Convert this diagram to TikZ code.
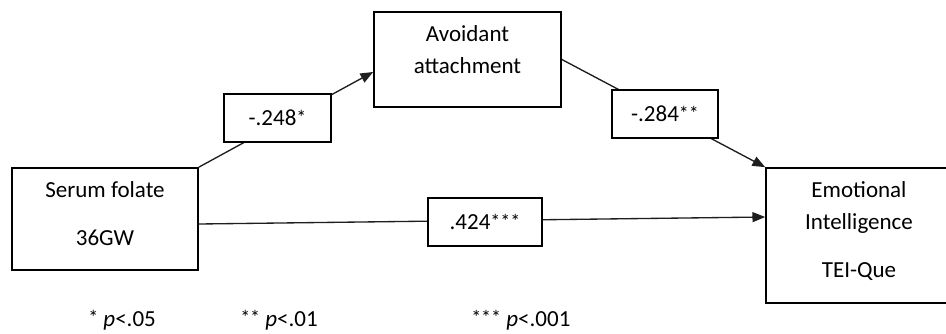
\documentclass[tikz,border=0pt]{standalone}
\usepackage{fontspec}
\setmainfont{Carlito}
\usetikzlibrary{arrows.meta,calc}
\newcommand\boxtxt[3]{\parbox[c][#1][t]{#2}{\centering\fontsize{17.25}{24}\selectfont\vspace*{5pt}#3}}
\newcommand\astk{{\fontsize{15}{15}\selectfont\raisebox{1pt}{*}}}
\begin{document}
\begin{tikzpicture}[x=0.75pt,y=-0.75pt,
  varbox/.style={draw, line width=1.3pt, inner sep=0pt},
  lbl/.style={draw, line width=1.2pt, fill=white, inner sep=0pt, minimum height=36pt, font=\fontsize{17.25}{20}\selectfont},
  conn/.style={line width=1pt, draw={rgb,255:red,30;green,30;blue,30}, -{Triangle[length=9.5pt,width=7.5pt]}},
  note/.style={anchor=base west, inner sep=0pt, font=\fontsize{17.25}{20}\selectfont}]
\clip (0,0) rectangle (946,333);
\fill[white] (0,0) rectangle (946,333);
% variable boxes
\node[varbox] (s) at (105,219) {\boxtxt{76.5pt}{139.5pt}{\strut Serum folate\par\vspace{12pt}\strut 36GW}};
\node[varbox] (a) at (467.5,59.5) {\boxtxt{71.25pt}{140.25pt}{\strut Avoidant\par\strut attachment}};
\node[varbox] (e) at (859,235.5) {\boxtxt{101.25pt}{139.5pt}{\strut Emotional\par\strut Intelligence\par\vspace{12pt}\strut TEI-Que}};
% connectors
\draw[conn] (s.north east) -- ($(a.west)+(0,12.5)$);
\draw[conn] (a.east) -- (e.north west);
\draw[conn] ($(s.east)+(0,5)$) -- ($(e.west)+(0,-18.5)$);
% coefficient labels
\node[lbl, minimum width=80.25pt] (l1) at (277.5,118) {-.248\astk};
\node[lbl, minimum width=79.5pt] (l2) at (665,114) {-.284\astk\astk};
\node[lbl, minimum width=85.5pt] (l3) at (485,222) {.424\astk\astk\astk};
% notes
\node[note] (n1) at (88,326) {\astk{} \textit{p}<.05};
\node[note] (n2) at (240,326) {\astk\astk{} \textit{p}<.01};
\node[note] (n3) at (471,326) {\astk\astk\astk{} \textit{p}<.001};
\end{tikzpicture}
\end{document}
